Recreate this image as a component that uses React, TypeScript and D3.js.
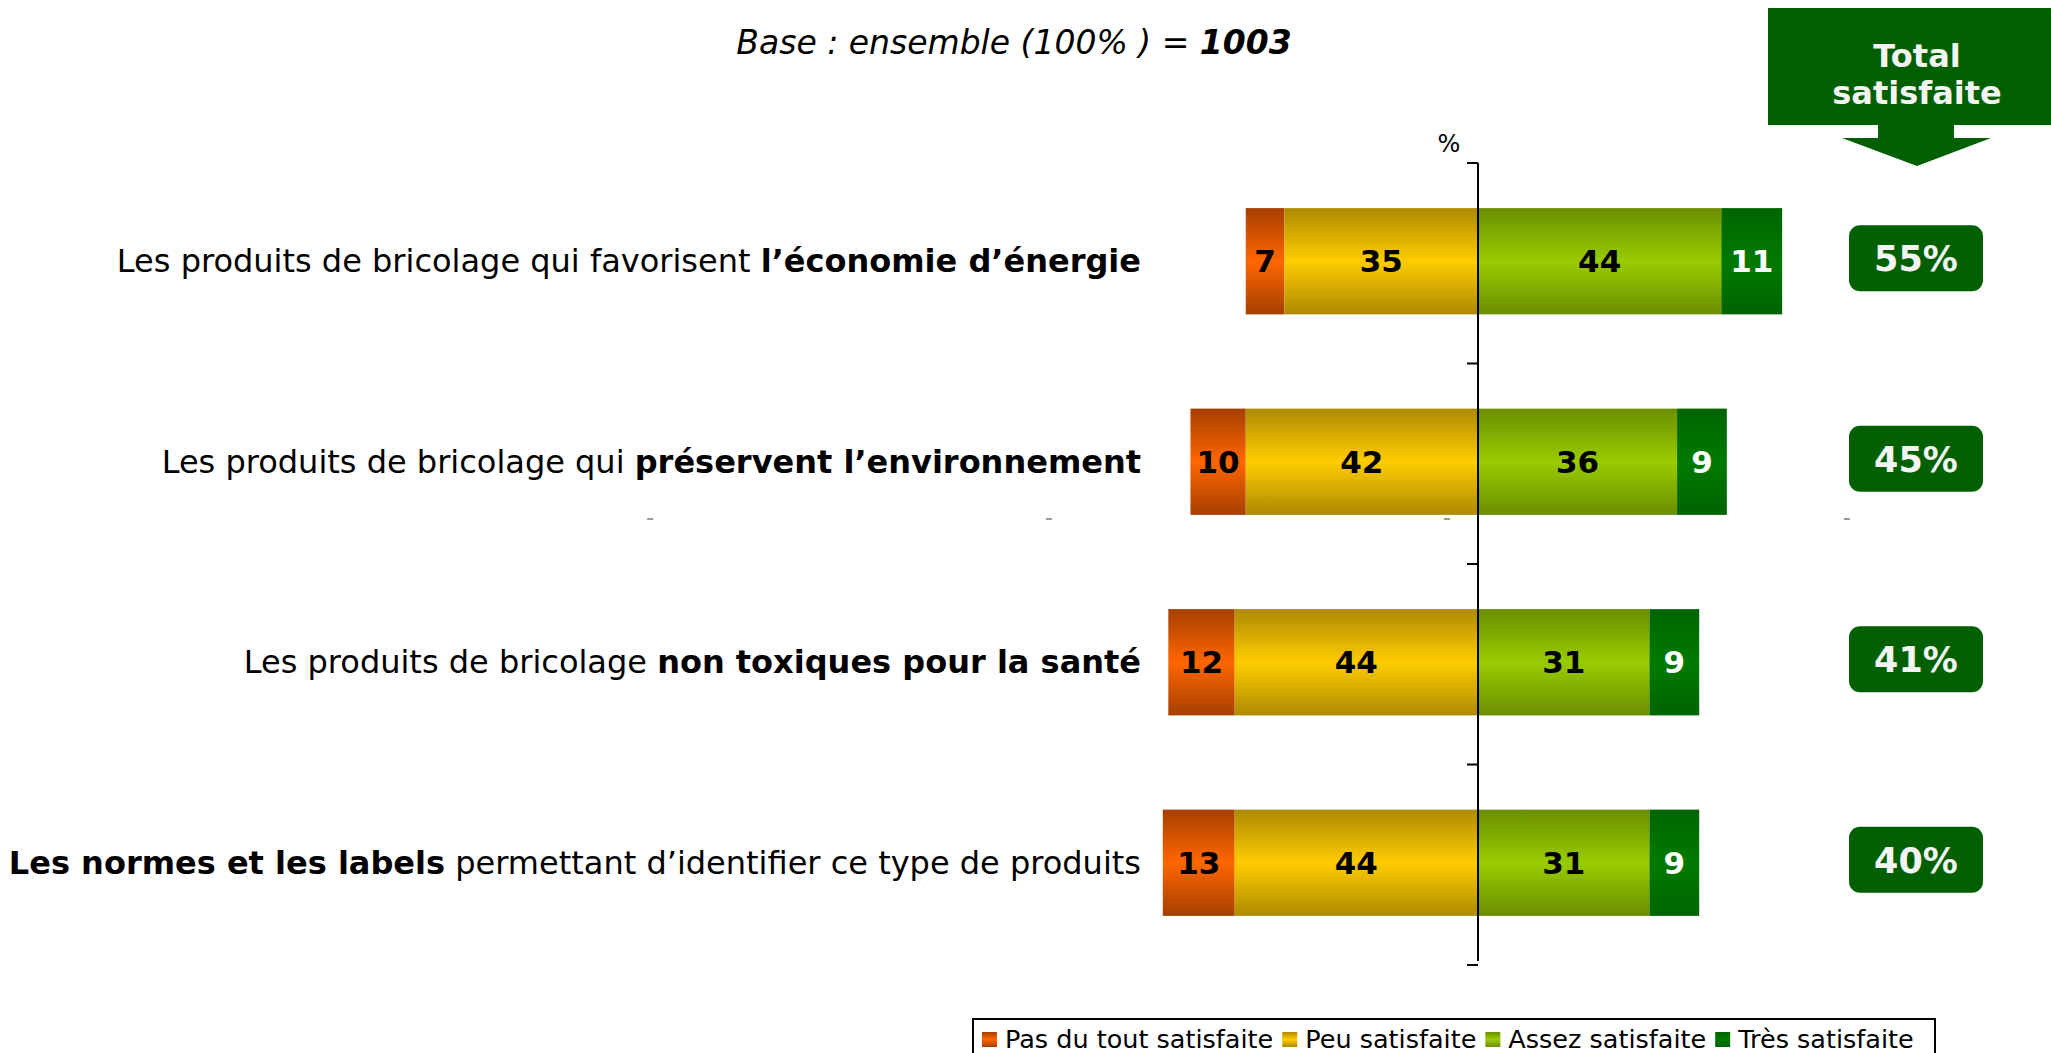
import React, { useEffect, useRef } from "react";
import * as d3 from "d3";

const categories = [
  { normal1: "Les produits de bricolage qui favorisent ", bold: "l’économie d’énergie", normal2: "" },
  { normal1: "Les produits de bricolage qui ", bold: "préservent l’environnement", normal2: "" },
  { normal1: "Les produits de bricolage ", bold: "non toxiques pour la santé", normal2: "" },
  { normal1: "", bold: "Les normes et les labels", normal2: " permettant d’identifier ce type de produits" },
];
const seriesNames = ["Pas du tout satisfaite", "Peu satisfaite", "Assez satisfaite", "Très satisfaite"];
const pasDuTout = [7, 10, 12, 13];
const peu = [35, 42, 44, 44];
const assez = [44, 36, 31, 31];
const tres = [11, 9, 9, 9];
const totals = ["55%", "45%", "41%", "40%"];
const edgeColors = ["#A63F00", "#AD8A00", "#6B8E00", "#006400"];
const midColors = ["#FF6600", "#FFCC00", "#99CC00", "#007A00"];
const textColors = ["#000", "#000", "#000", "#fff"];

const W = 2051, H = 1053;
const FONT = "DejaVu Sans, Verdana, sans-serif";

export default function App() {
  const ref = useRef<SVGSVGElement>(null);
  useEffect(() => {
    const svg = d3.select(ref.current);
    svg.selectAll("*").remove();
    const defs = svg.append("defs");
    edgeColors.forEach((c, i) => {
      const g = defs.append("linearGradient").attr("id", "g" + i).attr("x1", 0).attr("x2", 0).attr("y1", 0).attr("y2", 1);
      g.append("stop").attr("offset", "0%").attr("stop-color", c);
      g.append("stop").attr("offset", "50%").attr("stop-color", midColors[i]);
      g.append("stop").attr("offset", "100%").attr("stop-color", c);
    });

    const x = d3.scaleLinear().domain([-60, 60]).range([1478 - 60 * 5.53, 1478 + 60 * 5.53]);
    const y = d3.scaleBand<number>().domain(d3.range(categories.length)).range([163, 961]).paddingInner(0.47).paddingOuter(0.225);
    const step = y.step();

    // title
    const t = svg.append("text").attr("x", 1014).attr("y", 54).attr("text-anchor", "middle")
      .attr("font-family", FONT).attr("font-size", 33).attr("font-style", "italic");
    t.append("tspan").text("Base : ensemble (100% ) = ");
    t.append("tspan").attr("font-weight", "bold").text("1003");

    // header
    const hx = 1917;
    svg.append("rect").attr("x", 1768).attr("y", 8).attr("width", 290).attr("height", 117).attr("fill", "#006000");
    svg.append("path").attr("d", `M1878,124 L1954,124 L1954,138 L1991,138 L${hx},166 L1842,138 L1878,138 Z`).attr("fill", "#006000");
    svg.append("text").attr("x", hx).attr("y", 67).attr("text-anchor", "middle").attr("font-family", FONT)
      .attr("font-weight", "bold").attr("font-size", 32).attr("fill", "#f4f4f4").text("Total");
    svg.append("text").attr("x", hx).attr("y", 104).attr("text-anchor", "middle").attr("font-family", FONT)
      .attr("font-weight", "bold").attr("font-size", 32).attr("fill", "#f4f4f4").text("satisfaite");

    // stray gray marks
    [-149.7, -77.6, -5.6, 66.7].forEach((v) => {
      svg.append("rect").attr("x", x(v) - 3).attr("y", 518).attr("width", 6).attr("height", 2).attr("fill", "#999");
    });

    const stacks = [pasDuTout, peu, assez, tres];
    categories.forEach((cat, i) => {
      const y0 = y(i)!;
      const bh = y.bandwidth();
      const cy = y0 + bh / 2;
      const segs = [
        [-pasDuTout[i] - peu[i], -peu[i]],
        [-peu[i], 0],
        [0, assez[i]],
        [assez[i], assez[i] + tres[i]],
      ];
      segs.forEach((s, k) => {
        svg.append("rect").attr("x", x(s[0])).attr("y", y0).attr("width", x(s[1]) - x(s[0])).attr("height", bh)
          .attr("fill", `url(#g${k})`);
        svg.append("text").attr("x", (x(s[0]) + x(s[1])) / 2).attr("y", cy + 11).attr("text-anchor", "middle")
          .attr("font-family", FONT).attr("font-weight", "bold").attr("font-size", 31).attr("fill", textColors[k])
          .text(stacks[k][i]);
      });
      // label
      const lt = svg.append("text").attr("x", 1141).attr("y", cy + 11).attr("text-anchor", "end")
        .attr("font-family", FONT).attr("font-size", 32);
      if (cat.normal1) lt.append("tspan").text(cat.normal1);
      lt.append("tspan").attr("font-weight", "bold").text(cat.bold);
      if (cat.normal2) lt.append("tspan").text(cat.normal2);
      // total box
      const by = cy - 3;
      svg.append("rect").attr("x", 1849).attr("y", by - 33).attr("width", 134).attr("height", 66).attr("rx", 11)
        .attr("fill", "#006000");
      svg.append("text").attr("x", 1916).attr("y", by + 13).attr("text-anchor", "middle").attr("font-family", FONT)
        .attr("font-weight", "bold").attr("font-size", 35).attr("fill", "#f4f4f4").text(totals[i]);
    });

    // axis
    const ax = x(0);
    svg.append("line").attr("x1", ax).attr("x2", ax).attr("y1", 163).attr("y2", 961).attr("stroke", "#000").attr("stroke-width", 2);
    d3.range(categories.length + 1).forEach((j) => {
      const ty = 163 + j * step;
      svg.append("line").attr("x1", ax - 11).attr("x2", ax).attr("y1", ty).attr("y2", ty).attr("stroke", "#000").attr("stroke-width", 2);
    });
    svg.append("text").attr("x", 1449).attr("y", 152).attr("text-anchor", "middle").attr("font-family", FONT)
      .attr("font-size", 24).text("%");

    // legend
    svg.append("rect").attr("x", 973).attr("y", 1019).attr("width", 962).attr("height", 60).attr("fill", "#fff")
      .attr("stroke", "#000").attr("stroke-width", 2);
    let lx = 982;
    seriesNames.forEach((n, k) => {
      svg.append("rect").attr("x", lx).attr("y", 1032).attr("width", 15).attr("height", 15).attr("fill", `url(#g${k})`);
      const tx = svg.append("text").attr("x", lx + 23).attr("y", 1048).attr("font-family", FONT).attr("font-size", 25.5).text(n);
      const w = (tx.node() as SVGTextElement).getComputedTextLength();
      lx += 23 + w + 9;
    });
  }, []);
  return <svg ref={ref} width={W} height={H} style={{ position: "absolute", left: 0, top: 0, background: "#fff" }} />;
}
